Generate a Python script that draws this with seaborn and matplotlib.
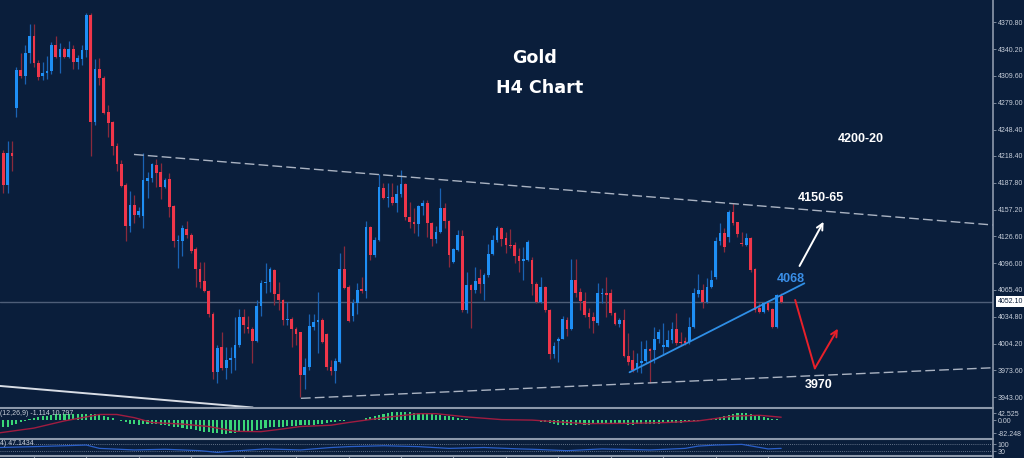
import numpy as np
import pandas as pd
import seaborn as sns
import matplotlib.pyplot as plt
from matplotlib.lines import Line2D

# colores del terminal
BG = "#0a1e3b"
UP = "#1e8ff5"
DN = "#f0364a"
WICK_UP = "#1a63b4"
WICK_DN = "#8a2a3c"
SEP = "#8d99ab"
TXT = "#c8cfda"

sns.set_style("dark", rc={"axes.facecolor": BG, "figure.facecolor": BG})
plt.rcParams['font.family'] = ['DejaVu Sans']

# velas H4 (open, high, low, close)
opens = [4174, 4222, 4185, 4222, 4273, 4316, 4310, 4336, 4355, 4324,
         4309, 4313, 4315, 4345, 4331, 4340, 4331, 4340, 4326, 4329,
         4339, 4379, 4257, 4318, 4307, 4268, 4257, 4230, 4209, 4185,
         4138, 4162, 4151, 4150, 4190, 4193, 4208, 4200, 4183, 4192,
         4161, 4121, 4121, 4135, 4128, 4112, 4089, 4076, 4064, 4038,
         3972, 4000, 3976, 3986, 3988, 4003, 4035, 4023, 4021, 4007,
         4047, 4073, 4075, 4088, 4061, 4054, 4031, 4032, 4021, 4017,
         3968, 3978, 4023, 4029, 4031, 4015, 3978, 3973, 3983, 4089,
         4069, 4036, 4051, 4066, 4064, 4137, 4105, 4122, 4182, 4170,
         4172, 4165, 4175, 4186, 4149, 4143, 4141, 4161, 4165, 4142,
         4124, 4132, 4159, 4144, 4097, 4111, 4127, 4043, 4071, 4065,
         4079, 4072, 4083, 4106, 4122, 4136, 4125, 4117, 4117, 4104,
         4099, 4100, 4100, 4072, 4052, 4069, 4043, 3992, 4007, 4010,
         4031, 4021, 4077, 4063, 4053, 4039, 4035, 4028, 4061, 4062,
         4062, 4039, 4027, 4031, 3990, 3985, 3975, 3982, 3984, 3998,
         3997, 4010, 4000, 4000, 4008, 4021, 4006, 4007, 4006, 4023,
         4061, 4065, 4052, 4069, 4080, 4121, 4130, 4126, 4154, 4143,
         4119, 4117, 4125, 4089, 4045, 4040, 4051, 4044, 4023, 4058]
highs = [4225, 4225, 4235, 4235, 4320, 4336, 4345, 4369, 4369, 4328,
         4325, 4332, 4348, 4355, 4347, 4343, 4349, 4345, 4334, 4345,
         4381, 4381, 4329, 4330, 4310, 4276, 4258, 4233, 4214, 4187,
         4178, 4174, 4160, 4222, 4200, 4210, 4215, 4210, 4193, 4199,
         4162, 4128, 4140, 4144, 4130, 4114, 4097, 4097, 4065, 4040,
         4003, 4018, 4000, 4000, 4035, 4044, 4044, 4036, 4023, 4054,
         4077, 4096, 4092, 4089, 4075, 4055, 4052, 4035, 4023, 4018,
         3988, 4038, 4038, 4063, 4033, 4016, 3986, 3988, 4108, 4116,
         4071, 4055, 4073, 4080, 4144, 4138, 4126, 4198, 4187, 4187,
         4187, 4185, 4202, 4187, 4166, 4159, 4162, 4168, 4168, 4143,
         4138, 4182, 4165, 4145, 4113, 4134, 4134, 4086, 4072, 4092,
         4089, 4085, 4118, 4128, 4138, 4137, 4132, 4135, 4120, 4113,
         4114, 4122, 4103, 4075, 4080, 4070, 4044, 4006, 4012, 4036,
         4035, 4101, 4101, 4068, 4063, 4045, 4040, 4073, 4068, 4080,
         4067, 4040, 4033, 4044, 4016, 3997, 3994, 4007, 4008, 3999,
         4023, 4021, 4028, 4020, 4029, 4039, 4018, 4012, 4035, 4068,
         4084, 4072, 4079, 4088, 4126, 4142, 4136, 4157, 4165, 4143,
         4131, 4130, 4126, 4090, 4051, 4052, 4052, 4045, 4061, 4062]
lows = [4170, 4176, 4176, 4201, 4263, 4307, 4300, 4324, 4320, 4305,
        4305, 4306, 4312, 4330, 4313, 4330, 4330, 4318, 4318, 4322,
        4331, 4218, 4254, 4299, 4266, 4240, 4219, 4201, 4183, 4121,
        4132, 4142, 4149, 4136, 4170, 4189, 4183, 4169, 4182, 4149,
        4114, 4091, 4104, 4125, 4108, 4069, 4068, 4063, 4035, 3964,
        3959, 3974, 3964, 3971, 3974, 4000, 4016, 4016, 3982, 4006,
        4036, 4062, 4063, 4048, 4043, 4025, 4025, 4000, 4003, 3943,
        3952, 3974, 4020, 3994, 4005, 3974, 3968, 3959, 3982, 4067,
        4029, 4030, 4038, 4062, 4056, 4100, 4103, 4121, 4169, 4160,
        4162, 4154, 4172, 4145, 4136, 4130, 4127, 4151, 4126, 4116,
        4119, 4130, 4136, 4092, 4096, 4110, 4040, 4039, 4022, 4062,
        4062, 4054, 4080, 4105, 4120, 4116, 4108, 4113, 4096, 4086,
        4077, 4098, 4060, 4051, 4051, 4040, 3987, 3988, 3983, 4009,
        4013, 4020, 4057, 4043, 4035, 4022, 4016, 4025, 4051, 4035,
        4037, 4025, 4023, 3989, 3980, 3972, 3972, 3971, 3982, 3959,
        3982, 4005, 3991, 4000, 4005, 4003, 4001, 4003, 4004, 4022,
        4057, 4045, 4051, 4068, 4078, 4117, 4109, 4120, 4140, 4126,
        4116, 4116, 4086, 4040, 4039, 4039, 4041, 4022, 4022, 4051]
closes = [4217, 4185, 4222, 4218, 4316, 4310, 4336, 4355, 4324, 4308,
          4313, 4315, 4345, 4331, 4340, 4331, 4340, 4326, 4330, 4339,
          4379, 4257, 4318, 4307, 4267, 4256, 4230, 4209, 4184, 4138,
          4162, 4151, 4155, 4191, 4193, 4209, 4199, 4183, 4191, 4160,
          4121, 4122, 4136, 4128, 4110, 4089, 4075, 4064, 4038, 3972,
          3999, 3976, 3986, 3988, 4003, 4035, 4025, 4021, 4007, 4047,
          4073, 4075, 4089, 4061, 4054, 4031, 4032, 4021, 4015, 3968,
          3978, 4024, 4029, 4031, 4006, 3978, 3973, 3984, 4089, 4068,
          4030, 4051, 4065, 4064, 4137, 4105, 4122, 4183, 4170, 4172,
          4165, 4175, 4186, 4149, 4143, 4141, 4161, 4165, 4142, 4124,
          4132, 4159, 4144, 4105, 4112, 4128, 4043, 4071, 4065, 4076,
          4072, 4083, 4106, 4122, 4136, 4124, 4117, 4116, 4104, 4098,
          4101, 4120, 4072, 4052, 4069, 4043, 3992, 4001, 4010, 4032,
          4021, 4077, 4062, 4053, 4037, 4035, 4030, 4062, 4062, 4060,
          4039, 4027, 4031, 3990, 3983, 3974, 3982, 3984, 3998, 3996,
          4010, 4018, 4003, 4008, 4021, 4005, 4005, 4005, 4023, 4062,
          4065, 4052, 4069, 4077, 4121, 4130, 4114, 4154, 4142, 4129,
          4118, 4125, 4088, 4043, 4040, 4051, 4043, 4023, 4060, 4052.1]

# MACD (12,26,9): histograma y linea de senal
macd_hist = [-50, -45, -40, -33, -22, -12, -4, 5, 12, 18, 24, 28, 32,
             35, 37, 38, 38, 37, 36, 36, 40, 38, 36, 32, 26, 18, 10, 3,
             -6, -15, -22, -26, -28, -27, -26, -26,
             -27, -30, -32, -36, -42, -46, -50, -53, -58, -62,
             -68, -72, -76, -80, -82, -84, -84, -83, -80, -76,
             -72, -68, -66, -60, -54, -50, -46, -44, -42, -41,
             -38, -36, -34, -33, -32, -30, -28, -25, -22, -18, -14,
             -10, -6, -3, -2, -1, 1, 3,
             10, 18, 24, 32, 38, 44, 48, 50, 52, 50, 48, 46,
             45, 42, 40, 36, 32, 30, 28, 24, 18, 12,
             6, 4, 2, 1, 0, 1, 2, 3, 3, 2, 1, 0, -1, 0, 1, 0, -2,
             -6, -10, -15, -20, -26, -28, -30, -31, -30, -28, -27, -28, -28,
             -27, -26, -25, -24, -24, -25, -26, -27, -28, -28, -27, -26, -25,
             -24, -23, -22, -21, -20, -19, -18, -16, -14, -12, -8, -4,
             -1, 2, 5, 12, 20, 28, 34, 40, 44, 46, 44, 40, 34, 26, 18, 12,
             7, 4, 2]
signal_idx = [0, 8, 15, 23, 27, 31, 35, 42, 48, 54, 60, 65, 69, 76, 80, 88,
              96, 100, 107, 115, 122, 134, 145, 153, 160, 168, 174, 179]
signal_val = [-80, -50, -5, 35, 35, 15, -15, -25, -40, -70, -72, -55, -40,
              -32, -15, 15, 40, 40, 20, 3, 0, -22, -20, -15, -5, 25, 30, 18]

# RSI
rsi_idx = [0, 8, 15, 20, 23, 31, 38, 46, 50, 54, 61, 69, 76, 80, 88, 96, 103,
           111, 119, 122, 130, 138, 149, 157, 160, 164, 170, 173, 176, 179]
rsi_val = [50, 55, 60, 64, 45, 36, 40, 32, 22, 30, 42, 36, 50, 55, 60, 55, 45,
           50, 42, 40, 32, 42, 36, 45, 58, 64, 68, 55, 42, 45]

price_ticks = [4370.80, 4340.20, 4309.60, 4279.00, 4248.40, 4218.40, 4187.80,
               4157.20, 4126.60, 4096.00, 4065.40, 4034.80, 4004.20, 3973.60,
               3943.00]
time_ticks = list(range(8, 180, 12))

df = pd.DataFrame({"open": opens, "high": highs, "low": lows, "close": closes})
df["idx"] = np.arange(len(df))
up = df["close"] >= df["open"]
body_bottom = np.minimum(df["open"], df["close"])
body_h = np.maximum((df["close"] - df["open"]).abs(), 0.9)

fig = plt.figure(figsize=(10.24, 4.58), dpi=100)
W = 993 / 1024
ax = fig.add_axes([0, 51 / 458, W, 407 / 458])
axm = fig.add_axes([0, 20 / 458, W, 28.5 / 458])
axr = fig.add_axes([0, 2.5 / 458, W, 15.5 / 458])

XL = (0.245, 227.47)
for a in (ax, axm, axr):
    a.set_facecolor(BG)
    a.set_xlim(*XL)
    for s in a.spines.values():
        s.set_visible(False)
    a.grid(False)
    a.yaxis.tick_right()

# velas
ax.vlines(df["idx"], df["low"], df["high"],
          colors=np.where(up, WICK_UP, WICK_DN), lw=0.9, zorder=2)
ax.bar(df["idx"], body_h, bottom=body_bottom, width=0.62,
       color=np.where(up, UP, DN), lw=0, zorder=3)
ax.set_ylim(3931.9, 4396.2)

# precio actual
ax.axhline(4052.1, color="#4e5e78", lw=1, zorder=1)

# lineas de tendencia
ax.plot([30.9, 227.5], [4220.0, 4139.5], color="#aab3c2", lw=1,
        dashes=(7, 3), zorder=4)
ax.plot([69.1, 227.5], [3941.8, 3976.7], color="#aab3c2", lw=1,
        dashes=(7, 3), zorder=4)
ax.plot([0.245, 58.1], [3955.9, 3931.3], color="#d8dde5", lw=1.4, zorder=4)
ax.plot([144.3, 184.3], [3971.5, 4073.0], color="#2f8fe6", lw=1.3, zorder=4)

# flechas
ax.annotate("", xy=(189.0, 4146), xytext=(182.9, 4090),
            arrowprops=dict(arrowstyle="->", color="white", lw=1.4,
                            mutation_scale=11))
ax.plot([182.2, 186.7], [4054, 3976], color="#e8202a", lw=1.4)
ax.annotate("", xy=(192.3, 4024), xytext=(186.7, 3976),
            arrowprops=dict(arrowstyle="->", color="#e8202a", lw=1.4,
                            mutation_scale=11, shrinkA=0))

# textos
ax.text(0.5388, 0.8563, "Gold", transform=ax.transAxes, ha="center",
        va="center", fontsize=12.6, fontweight="bold", color="white")
ax.text(0.5433, 0.7826, "H4 Chart", transform=ax.transAxes, ha="center",
        va="center", fontsize=12.6, fontweight="bold", color="white")
lvl = dict(transform=ax.transAxes, ha="center", va="center", fontsize=9,
           fontweight="bold", family=["Liberation Sans", "DejaVu Sans"])
ax.text(0.8671, 0.6577, "4200-20", color="white", **lvl)
ax.text(0.8268, 0.5140, "4150-65", color="white", **lvl)
ax.text(0.7966, 0.3133, "4068", color="#3a8fe8", **lvl)
ax.text(0.8243, 0.0541, "3970", color="white", **lvl)

# eje de precios
small = dict(fontsize=5, color=TXT, family=["Liberation Sans", "DejaVu Sans"])
ax.set_yticks(price_ticks)
ax.set_yticklabels([f"{v:.2f}" for v in price_ticks], **small)
ax.set_xticks([])
ax.annotate("4052.10", xy=(1.005, 4052.1), xycoords=("axes fraction", "data"),
            ha="left", va="center", fontsize=5, color=BG,
            family=["Liberation Sans", "DejaVu Sans"], annotation_clip=False,
            bbox=dict(boxstyle="square,pad=0.25", fc="white", ec="none"))

# MACD
axm.bar(df["idx"], macd_hist, width=0.48, color="#3ad677", lw=0)
sns.lineplot(x=signal_idx, y=signal_val, ax=axm, color="#a01c40", lw=1)
axm.set_ylim(-111.7, 66.1)
axm.set_yticks([42.525, 0, -82.248])
axm.set_yticklabels(["42.525", "0.00", "-82.248"], **small)
axm.set_xticks([])
axm.set_xlabel("")
axm.text(0.0, 0.85, "(12,26,9) -1.114 10.797", transform=axm.transAxes,
         ha="left", va="center", **small)

# RSI
axr.axhline(70, color="#7f8ca0", lw=0.6, ls=(0, (1, 1.5)))
axr.axhline(30, color="#7f8ca0", lw=0.6, ls=(0, (1, 1.5)))
sns.lineplot(x=rsi_idx, y=rsi_val, ax=axr, color="#2a5fc8", lw=0.9)
axr.set_ylim(4.3, 92.9)
axr.set_yticks([70, 30])
axr.set_yticklabels(["100", "30"], **small)
axr.set_xticks(time_ticks)
axr.set_xticklabels([])
axr.set_xlabel("")
axr.text(0.0, 0.75, "4) 47.1434", transform=axr.transAxes, ha="left",
         va="center", **small)

for a in (ax, axm, axr):
    a.tick_params(axis="y", right=True, left=False, direction="out",
                  length=2.5, width=0.6, color=SEP, pad=1)
axr.tick_params(axis="x", bottom=True, direction="out", length=2.5,
                width=0.8, color=SEP, pad=0)

# separadores y eje vertical
for yp in (408, 439, 456):
    fig.add_artist(Line2D([0, W], [1 - yp / 458] * 2, transform=fig.transFigure,
                          color=SEP, lw=1.5))
fig.add_artist(Line2D([W, W], [0, 1], transform=fig.transFigure,
                      color=SEP, lw=1.2))

plt.savefig("out.png", dpi=100, facecolor=BG)
